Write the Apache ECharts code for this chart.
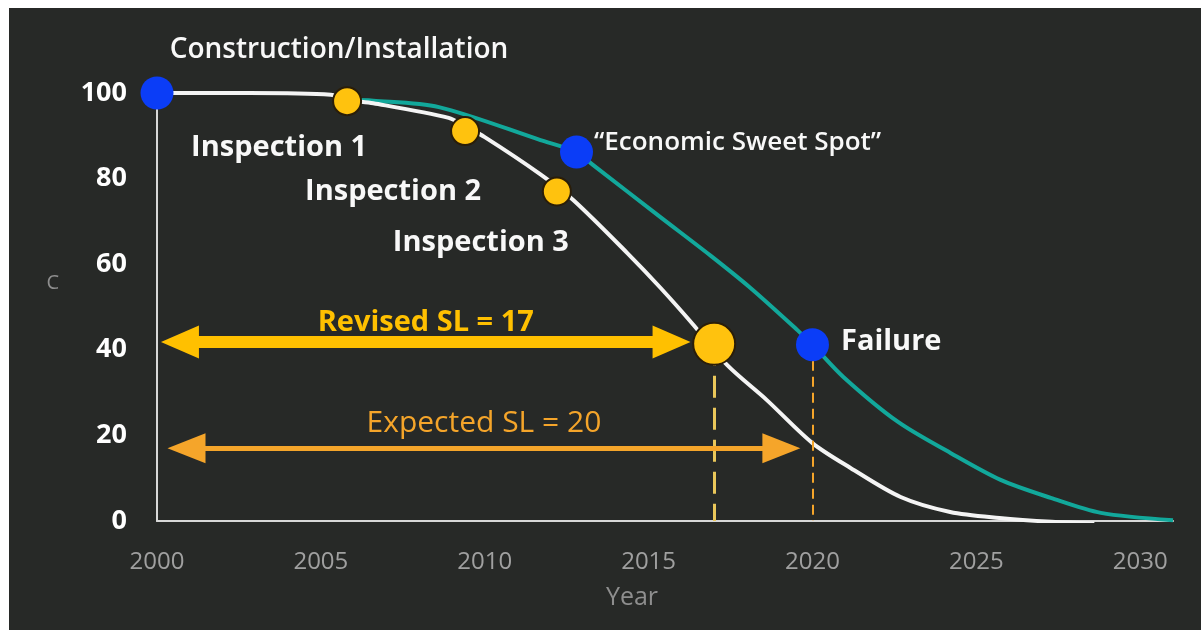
<!DOCTYPE html>
<html>
<head>
<meta charset="utf-8">
<script src="https://cdn.jsdelivr.net/npm/echarts@6/dist/echarts.min.js"></script>
<style>
  html, body { margin: 0; padding: 0; background: #ffffff; }
  #chart { position: absolute; left: 9px; top: 8px; width: 1192px; height: 622px; background: #272927; }
</style>
</head>
<body>
<div id="chart"></div>
<script>
  // Revised deterioration curve (white)
  const revisedYears = [2000, 2002.8, 2005.3, 2005.8, 2006.6, 2008.9, 2009.4, 2010.0, 2011.7, 2012.7, 2014.35, 2015.36, 2016.37, 2017.4, 2018.6, 2020.0, 2021.16, 2022.69, 2024.2, 2025.7, 2027.3, 2028.6];
  const revisedCond = [100, 100, 99.6, 98.4, 97.6, 94.2, 92.2, 89.7, 81.0, 75.0, 62.6, 54.5, 45.8, 36.4, 28.3, 18.2, 12.4, 5.6, 2.1, 0.7, -0.2, -0.6];

  // Expected deterioration curve (teal)
  const expectedYears = [2005.8, 2006.6, 2008.6, 2011.7, 2012.8, 2013.3, 2015.36, 2016.89, 2018.1, 2019.54, 2020.0, 2020.95, 2022.6, 2024.21, 2025.74, 2027.27, 2028.8, 2031];
  const expectedCond = [98.4, 98.2, 96.7, 89.0, 86.2, 83.2, 71.0, 62.0, 54.5, 44.6, 41.2, 33.6, 23.2, 15.9, 9.6, 5.4, 1.9, 0.2];

  // Inspections (yellow dots)
  const inspNames = ['Inspection 1', 'Inspection 2', 'Inspection 3'];
  const inspYears = [2005.8, 2009.4, 2012.2];
  const inspCond = [98.1, 91.1, 77.0];

  // Milestones (blue dots)
  const mileNames = ['Construction/Installation', '\u201CEconomic Sweet Spot\u201D', 'Failure'];
  const mileYears = [2000, 2012.8, 2020];
  const mileCond = [100, 86.2, 41.2];

  // Revised end of service life (big yellow dot)
  const revisedEnd = [2017, 41.4];

  // Service-life arrows
  const revisedArrow = [2000.7, 2015.7];
  const revisedArrowCond = 41.8;
  const expectedArrow = [2000.9, 2019.05];
  const expectedArrowCond = 17.0;

  const xMin = 2000;
  const xMax = 2031;
  const yTicks = [0, 20, 40, 60, 80, 100];

  const FONT = 'Open Sans';
  const chart = echarts.init(document.getElementById('chart'), null, { renderer: 'canvas' });

  // label placement for each annotated point
  const inspOffsets = [[-68, 47], [-72, 61], [-76, 51]];
  const mileLabels = [
    { position: 'inside', offset: [182, -43], fontWeight: 600, fontSize: 28 },
    { position: 'right', distance: 1, offset: [0, -9], fontWeight: 600, fontSize: 26 },
    { position: 'right', distance: 12, offset: [0, -3] }
  ];

  const option = {
    backgroundColor: '#272927',
    animation: false,
    grid: { left: 148, top: 85, right: 28, bottom: 109 },
    xAxis: {
      type: 'value',
      min: xMin,
      max: xMax,
      interval: 5,
      name: 'Year',
      nameLocation: 'middle',
      nameGap: 64,
      nameTextStyle: { color: '#8e8e8e', fontSize: 25, fontFamily: FONT, padding: [0, 66, 0, 0] },
      axisLine: { show: true, lineStyle: { color: '#d8d8d8', width: 2 } },
      axisTick: { show: false },
      splitLine: { show: false },
      axisLabel: {
        color: '#a0a0a0',
        fontSize: 24,
        fontFamily: FONT,
        margin: 29,
        formatter: v => (v % 5 === 0 ? String(v) : '')
      }
    },
    yAxis: {
      type: 'value',
      min: yTicks[0],
      max: yTicks[yTicks.length - 1],
      interval: 20,
      name: 'C',
      nameLocation: 'middle',
      nameRotate: 0,
      nameGap: 98,
      nameTextStyle: { color: '#8e8e8e', fontSize: 20, fontFamily: FONT, verticalAlign: 'bottom', lineHeight: 48 },
      axisLine: { show: true, lineStyle: { color: '#d8d8d8', width: 2 } },
      axisTick: { show: false },
      splitLine: { show: false },
      axisLabel: { color: '#ffffff', fontSize: 27, fontWeight: 'bold', fontFamily: FONT, margin: 30 }
    },
    series: [
      {
        name: 'Expected',
        type: 'line',
        data: expectedYears.map((x, i) => [x, expectedCond[i]]),
        smooth: 0.3,
        showSymbol: false,
        lineStyle: { color: '#12A89B', width: 4 },
        z: 2
      },
      {
        name: 'Revised',
        type: 'line',
        data: revisedYears.map((x, i) => [x, revisedCond[i]]),
        smooth: 0.3,
        showSymbol: false,
        lineStyle: { color: '#f4f4f4', width: 4 },
        z: 3,
        markLine: {
          silent: true,
          symbol: ['none', 'none'],
          label: { show: false },
          data: [
            [
              { coord: [revisedEnd[0], revisedEnd[1]], lineStyle: { color: '#EAC75A', width: 3, type: [22, 10] } },
              { coord: [revisedEnd[0], 0] }
            ],
            [
              { coord: [mileYears[2], mileCond[2]], lineStyle: { color: '#F5A52A', width: 2, type: [10, 6] } },
              { coord: [mileYears[2], 0] }
            ]
          ]
        }
      },
      {
        name: 'Service life',
        type: 'line',
        data: [],
        z: 4,
        markLine: {
          silent: true,
          data: [
            [
              {
                coord: [revisedArrow[0], revisedArrowCond],
                symbol: 'triangle',
                symbolSize: [33, 38],
                lineStyle: { color: '#FFC000', width: 12, type: 'solid' },
                label: {
                  show: true,
                  position: 'insideMiddleTop',
                  distance: 5,
                  formatter: 'Revised SL = 17',
                  color: '#FFC000',
                  fontSize: 29,
                  fontWeight: 'bold',
                  fontFamily: FONT
                }
              },
              { coord: [revisedArrow[1], revisedArrowCond], symbol: 'triangle', symbolSize: [33, 38] }
            ],
            [
              {
                coord: [expectedArrow[0], expectedArrowCond],
                symbol: 'triangle',
                symbolSize: [30, 38],
                lineStyle: { color: '#F5A52A', width: 5, type: 'solid' },
                label: {
                  show: true,
                  position: 'insideMiddleTop',
                  distance: 10,
                  formatter: 'Expected SL = 20',
                  color: '#F5A52A',
                  fontSize: 30,
                  fontWeight: 'normal',
                  fontFamily: FONT
                }
              },
              { coord: [expectedArrow[1], expectedArrowCond], symbol: 'triangle', symbolSize: [30, 38] }
            ]
          ]
        }
      },
      {
        name: 'Inspections',
        type: 'scatter',
        z: 6,
        symbolSize: 28,
        itemStyle: { color: '#FFC20E', borderColor: '#2a1d08', borderWidth: 2, opacity: 1 },
        data: inspYears.map((x, i) => ({
          name: inspNames[i],
          value: [x, inspCond[i]],
          label: { offset: inspOffsets[i] }
        })),
        label: {
          show: true,
          position: 'inside',
          formatter: '{b}',
          color: '#f8f8f8',
          fontSize: 29,
          fontWeight: 'bold',
          fontFamily: FONT
        }
      },
      {
        name: 'Revised end',
        type: 'scatter',
        z: 6,
        symbolSize: 42,
        itemStyle: { color: '#FFC20E', borderColor: '#2a1d08', borderWidth: 2, opacity: 1 },
        data: [revisedEnd]
      },
      {
        name: 'Milestones',
        type: 'scatter',
        z: 7,
        symbolSize: 33,
        itemStyle: { color: '#0B3DF7', opacity: 1 },
        data: mileYears.map((x, i) => ({ name: mileNames[i], value: [x, mileCond[i]], label: mileLabels[i] })),
        label: {
          show: true,
          formatter: '{b}',
          color: '#f8f8f8',
          fontSize: 29,
          fontWeight: 'bold',
          fontFamily: FONT,
          position: 'right'
        }
      }
    ]
  };

  chart.setOption(option);
</script>
</body>
</html>
